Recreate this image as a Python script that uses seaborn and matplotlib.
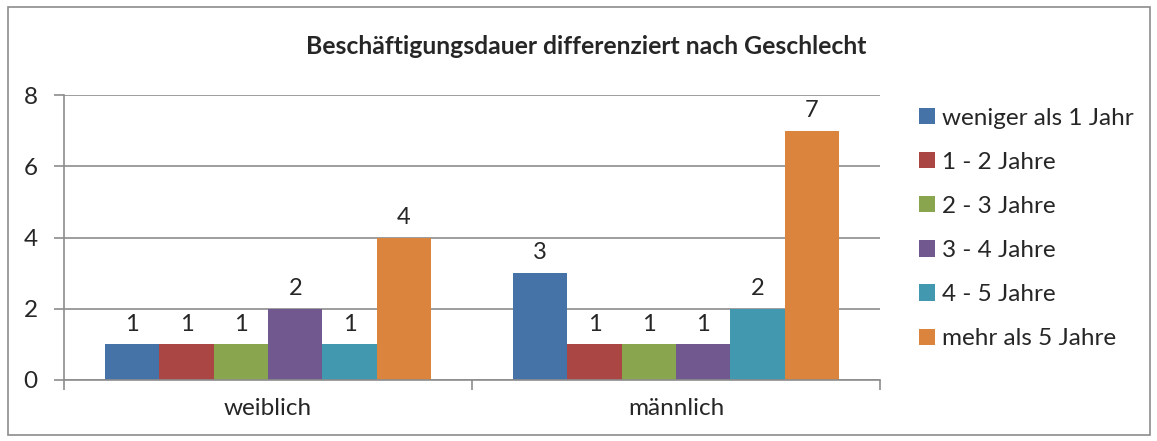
import pandas as pd
import seaborn as sns
import matplotlib.pyplot as plt
from matplotlib.patches import Rectangle

# Data
geschlecht = ['weiblich', 'männlich']
dauer = ['weniger als 1 Jahr', '1 - 2 Jahre', '2 - 3 Jahre',
         '3 - 4 Jahre', '4 - 5 Jahre', 'mehr als 5 Jahre']
weiblich = [1, 1, 1, 2, 1, 4]
maennlich = [3, 1, 1, 1, 2, 7]
farben = ['#4572A7', '#AA4643', '#89A54E', '#71588F', '#4198AF', '#DB843D']

dat = pd.DataFrame({
    'geschlecht': [geschlecht[0]] * len(dauer) + [geschlecht[1]] * len(dauer),
    'dauer': dauer + dauer,
    'anzahl': weiblich + maennlich,
})

sns.set_style('white')
plt.rcParams['font.family'] = ['Lato', 'DejaVu Sans']

fig = plt.figure(figsize=(11.57, 4.41), dpi=100)
ax = fig.add_axes([64 / 1157, 1 - 380 / 441, (880 - 64) / 1157, (380 - 95) / 441])

sns.barplot(data=dat, x='geschlecht', y='anzahl', hue='dauer',
            hue_order=dauer, order=geschlecht, palette=farben,
            saturation=1, width=0.8, linewidth=0, ax=ax)

# Data labels
for c in ax.containers:
    ax.bar_label(c, padding=7, fontsize=17)

ax.set_xlim(-0.5, 1.5)
ax.set_ylim(0, 8)
ax.set_yticks([0, 2, 4, 6, 8])
ax.set_xlabel('')
ax.set_ylabel('')
ax.yaxis.grid(True, color='#8c8c8c', linewidth=1.2)
ax.set_axisbelow(True)

for t in ['top', 'right']:
    ax.spines[t].set_visible(False)
for t in ['left', 'bottom']:
    ax.spines[t].set_color('#8c8c8c')
    ax.spines[t].set_linewidth(1.2)

# Category separator ticks like Excel
ax.set_xticks([-0.5, 0.5, 1.5], minor=True)
ax.tick_params(axis='x', which='major', length=0, labelsize=17.5, pad=13)
ax.tick_params(axis='x', which='minor', length=7, color='#8c8c8c',
               width=1.2, direction='out', bottom=True)
ax.tick_params(axis='y', length=7, color='#8c8c8c', width=1.2,
               direction='out', left=True, labelsize=17.5, pad=12)

fig.text(0.507, 1 - 46 / 441, 'Beschäftigungsdauer differenziert nach Geschlecht',
         ha='center', va='center', fontsize=17.8, fontweight='bold')

handles, labels = ax.get_legend_handles_labels()
ax.legend(handles, labels, loc='upper left',
          bbox_to_anchor=(909 / 1157, 1 - 98 / 441),
          bbox_transform=fig.transFigure, frameon=False, fontsize=17.5,
          handlelength=0.65, handleheight=0.65, handletextpad=0.3,
          labelspacing=0.95, borderaxespad=0)

# Chart border
fig.patches.append(Rectangle((8 / 1157, 6 / 441), 1142 / 1157, 428 / 441,
                             transform=fig.transFigure, fill=False,
                             edgecolor='#8c8c8c', linewidth=1.2))

fig.savefig('out.png', dpi=100)
